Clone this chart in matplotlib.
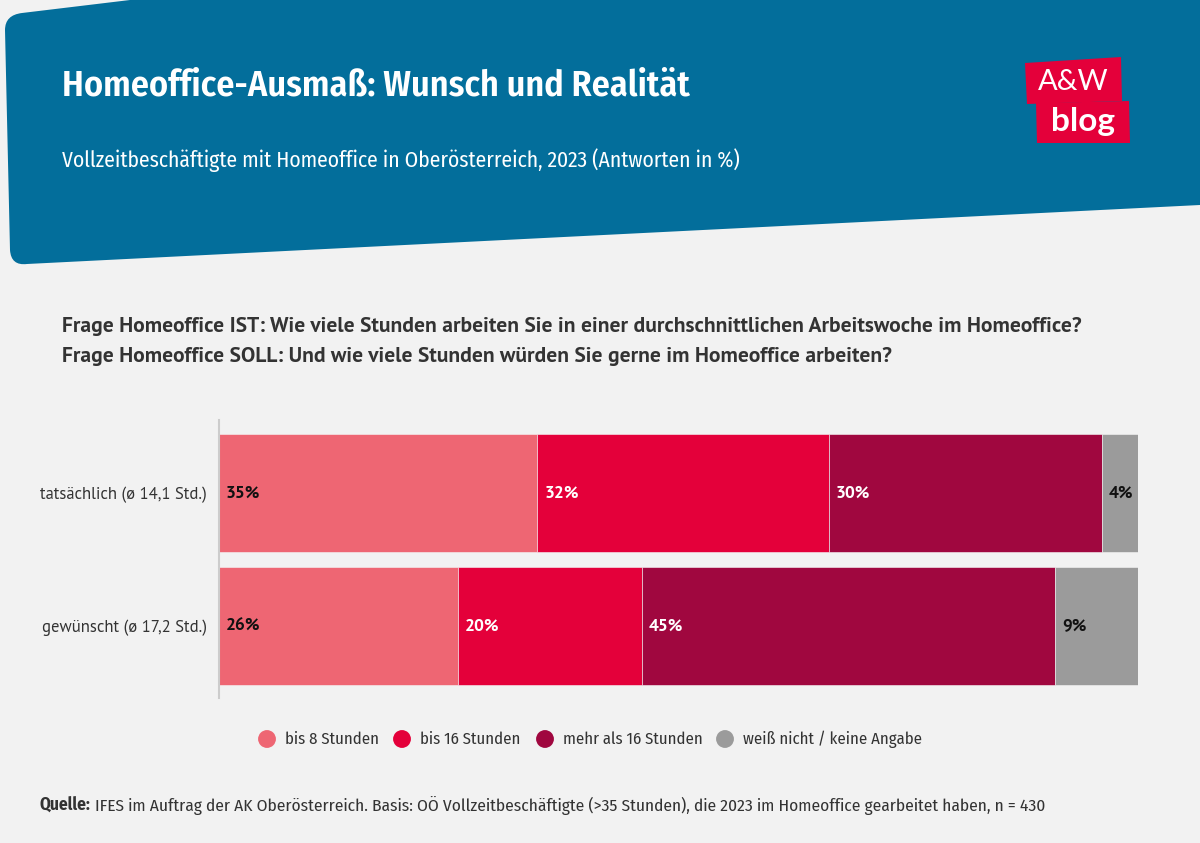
import matplotlib
matplotlib.use('Agg')
import matplotlib.pyplot as plt
from matplotlib.path import Path
from matplotlib.patches import PathPatch, Polygon

SANS = ['PT Sans', 'Lato', 'DejaVu Sans']
COND = ['Fira Sans Condensed', 'Open Sans Condensed', 'DejaVu Sans']
plt.rcParams['font.family'] = SANS

# data
categories = ['tatsächlich (ø 14,1 Std.)', 'gewünscht (ø 17,2 Std.)']
series = ['bis 8 Stunden', 'bis 16 Stunden', 'mehr als 16 Stunden', 'weiß nicht / keine Angabe']
ist = [35, 32, 30, 4]
soll = [26, 20, 45, 9]

COLORS = ['#EE6673', '#E4003A', '#A0073F', '#9B9B9B']
LABEL_COLORS = ['#111111', 'white', 'white', '#111111']
BG = '#F2F2F2'
BLUE = '#036E9B'
TEXT = '#333333'

W, H = 1200, 843
fig = plt.figure(figsize=(W / 100, H / 100), dpi=100, facecolor=BG)

# background layer in pixel coordinates
bg = fig.add_axes([0, 0, 1, 1], zorder=0)
bg.set_xlim(0, W)
bg.set_ylim(H, 0)
bg.axis('off')

verts = [(5, 30), (10, 250), (11, 266), (27, 264), (1200, 205), (1200, 0),
         (130, 0), (22, 13), (5, 15), (5, 30)]
codes = [Path.MOVETO, Path.LINETO, Path.CURVE3, Path.CURVE3, Path.LINETO, Path.LINETO,
         Path.LINETO, Path.LINETO, Path.CURVE3, Path.CURVE3]
bg.add_patch(PathPatch(Path(verts, codes), facecolor=BLUE, edgecolor='none'))

# logo
bg.add_patch(Polygon([(1025, 63), (1121, 57), (1122, 101), (1027, 104)], closed=True,
                     facecolor='#E4003A', edgecolor='none'))
bg.add_patch(Polygon([(1036, 103), (1129, 101), (1130, 143), (1037, 143)], closed=True,
                     facecolor='#E4003A', edgecolor='none'))
bg.text(1073, 82, 'A&W', color='white', fontsize=21, ha='center', va='center',
        family=['Lato', 'DejaVu Sans'])
bg.text(1083, 122, 'blog', color='white', fontsize=24, fontweight='bold', ha='center', va='center',
        family=['Lato', 'DejaVu Sans'])

bg.text(62, 86, 'Homeoffice-Ausmaß: Wunsch und Realität', color='white', fontsize=26,
        fontweight='semibold', va='center', family=COND)
bg.text(62, 160, 'Vollzeitbeschäftigte mit Homeoffice in Oberösterreich, 2023 (Antworten in %)',
        color='white', fontsize=15.5, va='center', family=COND)

bg.text(62, 326, 'Frage Homeoffice IST: Wie viele Stunden arbeiten Sie in einer durchschnittlichen '
        'Arbeitswoche im Homeoffice?', color=TEXT, fontsize=15.5, fontweight='bold', va='center')
bg.text(62, 356, 'Frage Homeoffice SOLL: Und wie viele Stunden würden Sie gerne im Homeoffice arbeiten?',
        color=TEXT, fontsize=15.5, fontweight='bold', va='center')

# bar chart
ax = fig.add_axes([219 / W, 1 - 698 / H, (1138 - 219) / W, (698 - 420) / H], zorder=1)
ax.set_facecolor('none')
rows = [ist, soll]
for i, vals in enumerate(rows):
    total = sum(vals)
    left = 0
    for j, v in enumerate(vals):
        w = v / total * 100
        ax.barh(i, w, left=left, height=0.887, color=COLORS[j], edgecolor='#F5F5F5', linewidth=0.4)
        ax.text(left + 0.75, i, f'{v}%', color=LABEL_COLORS[j], fontsize=12.5,
                fontweight='bold', va='center', ha='left')
        left += w

ax.set_xlim(0, 100)
ax.set_ylim(1.541, -0.549)
ax.set_yticks([0, 1])
ax.set_yticklabels(categories, fontsize=12, color=TEXT)
ax.tick_params(axis='y', length=0, pad=9)
ax.set_xticks([])
for s in ['top', 'right', 'bottom']:
    ax.spines[s].set_visible(False)
ax.spines['left'].set_color('#CCCCCC')
ax.spines['left'].set_linewidth(1.5)

# legend, placed by hand
leg_x = [267, 402, 545, 725]
for x, c, name in zip(leg_x, COLORS, series):
    bg.scatter(x, 739, s=165, color=c, edgecolors='none')
    bg.text(x + 18, 739, name, color=TEXT, fontsize=12, va='center', family=COND)

# source
t = bg.text(40, 811, 'Quelle:', color=TEXT, fontsize=12.5, fontweight='bold', va='baseline', family=COND)
fig.canvas.draw()
bb = t.get_window_extent()
bg.text(40 + bb.width + 4, 811, 'IFES im Auftrag der AK Oberösterreich. Basis: OÖ Vollzeitbeschäftigte '
        '(>35 Stunden), die 2023 im Homeoffice gearbeitet haben, n = 430',
        color=TEXT, fontsize=12.5, va='baseline', family=COND)

fig.savefig('out.png', dpi=100, facecolor=BG)
